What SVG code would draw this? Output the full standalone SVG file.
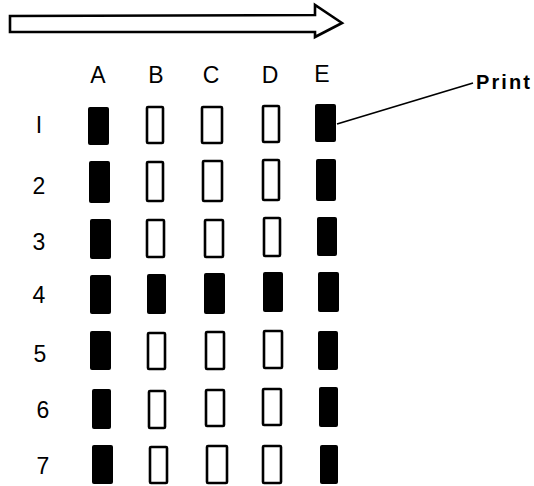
<svg xmlns="http://www.w3.org/2000/svg" width="534" height="486" viewBox="0 0 534 486">
<style>
.f{fill:#000}
.h{fill:#fff;stroke:#000;stroke-width:2.6}
.lbl{font-family:"Liberation Sans",Arial,sans-serif;font-size:23px;fill:#000;text-anchor:middle}
.pr{font-family:"Liberation Sans",Arial,sans-serif;font-size:20px;font-weight:bold;fill:#000}
</style>
<rect width="534" height="486" fill="#fff"/>
<g id="arrow">
<path d="M10,16 L315,15 L315,5 L342,23 L315,37 L315,32 L10,32 Z" fill="#fff" stroke="#000" stroke-width="2.6" stroke-linejoin="miter"/>
</g>
<g id="cols">
<text class="lbl" x="98" y="83">A</text>
<text class="lbl" x="156" y="83">B</text>
<text class="lbl" x="211" y="83">C</text>
<text class="lbl" x="270" y="83">D</text>
<text class="lbl" x="322" y="82">E</text>
</g>
<g id="rows">
<text class="lbl" x="39" y="133">I</text>
<text class="lbl" x="39" y="194">2</text>
<text class="lbl" x="39" y="250">3</text>
<text class="lbl" x="39" y="303">4</text>
<text class="lbl" x="40" y="362">5</text>
<text class="lbl" x="43" y="418">6</text>
<text class="lbl" x="43" y="474">7</text>
</g>
<g id="row1">
<rect class="f" x="88" y="107" width="21" height="38" rx="2"/>
<rect class="h" x="147" y="107" width="16" height="36" rx="1"/>
<rect class="h" x="202" y="107" width="20" height="36" rx="1"/>
<rect class="h" x="263" y="106" width="16" height="36" rx="1"/>
<rect class="f" x="315" y="104" width="21" height="38" rx="2"/>
</g>
<g id="row2">
<rect class="f" x="89" y="161" width="21" height="42" rx="2"/>
<rect class="h" x="147" y="162" width="16" height="39" rx="1"/>
<rect class="h" x="203" y="161" width="19" height="40" rx="1"/>
<rect class="h" x="263" y="160" width="16" height="40" rx="1"/>
<rect class="f" x="316" y="159" width="20" height="42" rx="2"/>
</g>
<g id="row3">
<rect class="f" x="90" y="219" width="21" height="40" rx="2"/>
<rect class="h" x="147" y="220" width="17" height="37" rx="1"/>
<rect class="h" x="205" y="220" width="18" height="37" rx="1"/>
<rect class="h" x="264" y="218" width="16" height="38" rx="1"/>
<rect class="f" x="317" y="217" width="20" height="39" rx="2"/>
</g>
<g id="row4">
<rect class="f" x="90" y="275" width="21" height="39" rx="2"/>
<rect class="f" x="147" y="274" width="19" height="40" rx="2"/>
<rect class="f" x="204" y="273" width="21" height="41" rx="2"/>
<rect class="f" x="263" y="272" width="20" height="40" rx="2"/>
<rect class="f" x="318" y="272" width="21" height="40" rx="2"/>
</g>
<g id="row5">
<rect class="f" x="90" y="331" width="21" height="39" rx="2"/>
<rect class="h" x="148" y="333" width="17" height="36" rx="1"/>
<rect class="h" x="206" y="332" width="18" height="37" rx="1"/>
<rect class="h" x="264" y="331" width="18" height="37" rx="1"/>
<rect class="f" x="318" y="331" width="20" height="39" rx="2"/>
</g>
<g id="row6">
<rect class="f" x="92" y="389" width="19" height="40" rx="2"/>
<rect class="h" x="149" y="391" width="16" height="37" rx="1"/>
<rect class="h" x="206" y="390" width="18" height="36" rx="1"/>
<rect class="h" x="263" y="389" width="18" height="36" rx="1"/>
<rect class="f" x="319" y="387" width="19" height="40" rx="2"/>
</g>
<g id="row7">
<rect class="f" x="92" y="445" width="21" height="39" rx="2"/>
<rect class="h" x="150" y="447" width="17" height="36" rx="1"/>
<rect class="h" x="207" y="446" width="20" height="37" rx="1"/>
<rect class="h" x="263" y="446" width="18" height="37" rx="1"/>
<rect class="f" x="320" y="445" width="18" height="39" rx="2"/>
</g>
<g id="connectors">
<line x1="337" y1="124" x2="473" y2="83" stroke="#000" stroke-width="1.8"/>
</g>
<g id="print">
<text class="pr" x="476" y="89" textLength="54" lengthAdjust="spacing">Print</text>
</g>
</svg>
